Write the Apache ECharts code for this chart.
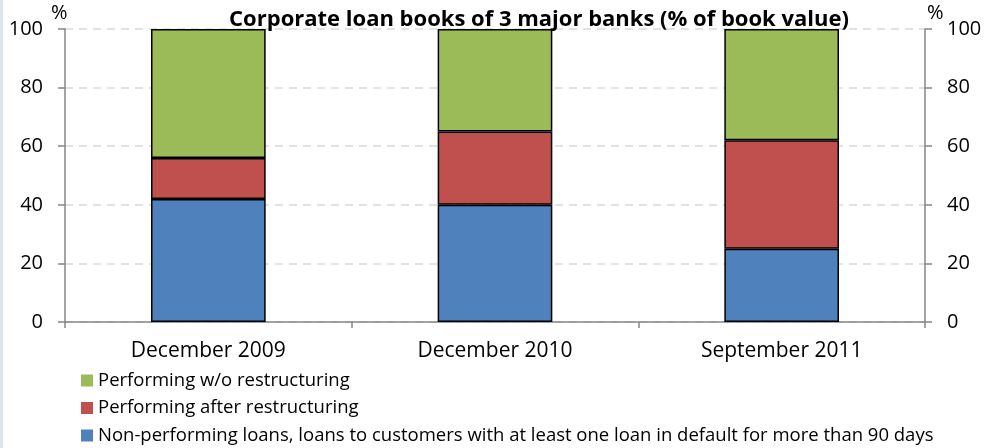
<!DOCTYPE html>
<html>
<head>
<meta charset="utf-8">
<style>
html,body{margin:0;padding:0;background:#fff;}
#c{width:990px;height:448px;}
</style>
<script src="https://cdn.jsdelivr.net/npm/echarts@6/dist/echarts.min.js"></script>
</head>
<body>
<div id="c"></div>
<script>
const categories = ['December 2009', 'December 2010', 'September 2011'];
const nonPerforming = [42, 40, 25];
const performingAfter = [14, 25, 37];
const performingWithout = [44, 35, 38];
const seriesNames = [
  'Non-performing loans, loans to customers with at least one loan in default for more than 90 days',
  'Performing after restructuring',
  'Performing w/o restructuring'
];
const titleText = 'Corporate loan books of 3 major banks (% of book value)';

const FONT = 'Open Sans';
const chart = echarts.init(document.getElementById('c'), null, {renderer: 'canvas'});
const barBorder = {borderColor: '#000', borderWidth: 1.5};
const axisLineGray = '#868686';

chart.setOption({
  animation: false,
  textStyle: {fontFamily: FONT},
  title: {
    text: titleText,
    left: 534, top: 4, textAlign: 'center',
    textStyle: {fontFamily: FONT, fontSize: 22, fontWeight: 'bold', color: '#000'}
  },
  graphic: [
    {type: 'rect', left: 0, top: 0, shape: {width: 3, height: 448}, style: {fill: '#dce6f2'}, z: -1},
    {type: 'text', left: 51, top: 3, style: {text: '%', fontSize: 20, fontFamily: FONT, fill: '#000'}},
    {type: 'text', left: 927, top: 3, style: {text: '%', fontSize: 20, fontFamily: FONT, fill: '#000'}}
  ],
  legend: {
    orient: 'vertical',
    left: 81, top: 371, height: 80, padding: 0,
    itemWidth: 12, itemHeight: 12, itemGap: 8.5,
    icon: 'rect',
    itemStyle: {borderWidth: 0},
    data: [seriesNames[2], seriesNames[1], seriesNames[0]],
    textStyle: {fontFamily: FONT, fontSize: 18.5, color: '#000'}
  },
  grid: {left: 65, right: 65, top: 29, bottom: 126, containLabel: false},
  xAxis: {
    type: 'category',
    data: categories,
    axisLine: {lineStyle: {color: axisLineGray, width: 1.5}},
    axisTick: {show: true, alignWithLabel: false, length: 6, lineStyle: {color: axisLineGray, width: 1.5}},
    axisLabel: {fontFamily: FONT, fontSize: 21, color: '#000', margin: 19}
  },
  yAxis: [
    {
      type: 'value', min: 0, max: 100, interval: 20, position: 'left',
      axisLine: {show: true, lineStyle: {color: axisLineGray, width: 1.5}},
      axisTick: {show: true, length: 7, lineStyle: {color: axisLineGray, width: 1.5}},
      axisLabel: {fontFamily: FONT, fontSize: 20, color: '#000', margin: 22},
      splitLine: {show: true, lineStyle: {color: '#d9d9d9', type: [8, 6], width: 1.5}}
    },
    {
      type: 'value', min: 0, max: 100, interval: 20, position: 'right',
      axisLine: {show: true, lineStyle: {color: axisLineGray, width: 1.5}},
      axisTick: {show: true, length: 7, lineStyle: {color: axisLineGray, width: 1.5}},
      axisLabel: {fontFamily: FONT, fontSize: 20, color: '#000', margin: 22},
      splitLine: {show: false}
    }
  ],
  series: [
    {name: seriesNames[0], type: 'bar', stack: 's', barWidth: '40%', data: nonPerforming,
     itemStyle: Object.assign({color: '#4f81bd'}, barBorder)},
    {name: seriesNames[1], type: 'bar', stack: 's', barWidth: '40%', data: performingAfter,
     itemStyle: Object.assign({color: '#c0504d'}, barBorder)},
    {name: seriesNames[2], type: 'bar', stack: 's', barWidth: '40%', data: performingWithout,
     itemStyle: Object.assign({color: '#9bbb59'}, barBorder)}
  ]
});
</script>
</body>
</html>
